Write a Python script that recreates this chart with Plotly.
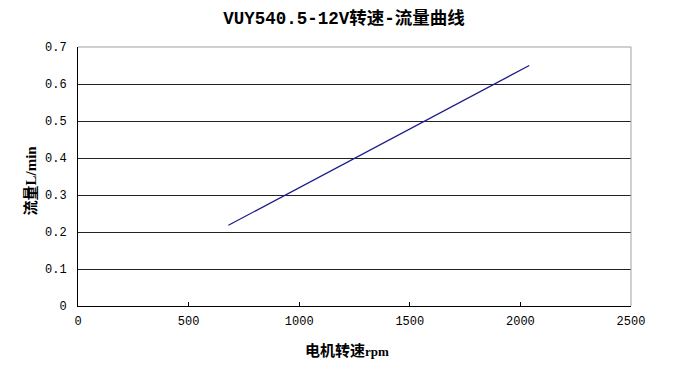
import plotly.graph_objects as go

rpm = [680, 2040]
flow = [0.218, 0.65]
x_ticks = [0, 500, 1000, 1500, 2000, 2500]
y_ticks = [0, 0.1, 0.2, 0.3, 0.4, 0.5, 0.6, 0.7]
y_labels = ["0", "0.1", "0.2", "0.3", "0.4", "0.5", "0.6", "0.7"]

mono = "Liberation Mono, Noto Sans CJK SC, monospace"
serif = "Liberation Serif, Noto Sans CJK SC, serif"

W, H = 690, 365
L, R, T, B = 70, 67, 39, 67  # page has 8px body offset

fig = go.Figure()
fig.add_trace(go.Scatter(x=rpm, y=flow, mode="lines",
                         line=dict(color="#1c1c8a", width=1.2),
                         showlegend=False, hoverinfo="skip"))

fig.update_layout(
    width=W, height=H,
    margin=dict(l=L, r=R, t=T, b=B),
    paper_bgcolor="white", plot_bgcolor="white",
    title=dict(text="<b>VUY540.5-12V转速-流量曲线</b>", x=336 / W,
               xanchor="center", xref="container",
               y=1 - 10 / H, yanchor="middle", yref="container",
               font=dict(family=mono, size=17.5, color="black")),
    font=dict(family=mono, size=12, color="black"),
    annotations=[
        dict(text="<b>电机转速</b><b style='font-family:Liberation Serif;font-size:13px'>rpm</b>",
             xref="paper", yref="paper", x=0.5, xshift=-8, y=0, yshift=-45,
             xanchor="center", yanchor="middle", showarrow=False,
             font=dict(family=serif, size=15, color="black")),
        dict(text="<b>流量</b><b style='font-family:Liberation Serif;font-size:15px'>L/min</b>",
             xref="paper", yref="paper", x=0, xshift=-48, y=0.5, yshift=-4,
             xanchor="center", yanchor="middle", showarrow=False, textangle=-90,
             font=dict(family=serif, size=15, color="black")),
    ],
)
fig.update_xaxes(range=[0, 2500], tickvals=x_ticks, ticktext=[str(v) for v in x_ticks],
                 showgrid=False, zeroline=False,
                 showline=True, linecolor="black", linewidth=1,
                 ticks="inside", ticklen=4, tickcolor="black",
                 ticklabelstandoff=4,
                 tickfont=dict(family=mono, size=12))
fig.update_yaxes(range=[0, 0.7], tickvals=y_ticks, ticktext=y_labels,
                 showgrid=True, gridcolor="#222222", gridwidth=1, zeroline=False,
                 showline=True, linecolor="black", linewidth=1,
                 ticks="", ticklabelstandoff=8,
                 tickfont=dict(family=mono, size=12))
fig.add_shape(type="line", xref="paper", yref="paper", x0=0, y0=1, x1=1, y1=1,
              line=dict(color="#a0a0a0", width=1))
fig.add_shape(type="line", xref="paper", yref="paper", x0=1, y0=0, x1=1, y1=1,
              line=dict(color="#a0a0a0", width=1))

fig.write_html("out.html")
